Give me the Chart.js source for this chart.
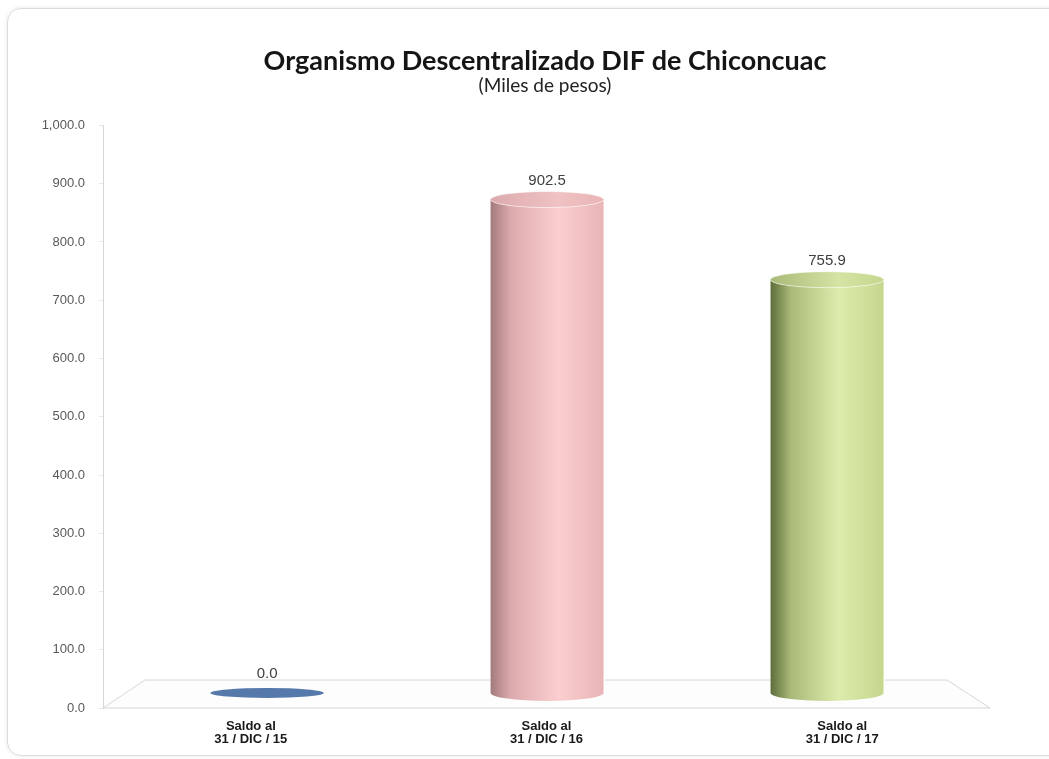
<!DOCTYPE html>
<html>
<head>
<meta charset="utf-8">
<script src="https://cdn.jsdelivr.net/npm/chart.js@4"></script>
<style>
  body { margin: 0; background: #fff; }
  .card { position: absolute; left: 7px; top: 8px; width: 1060px; height: 746px;
          border: 1px solid #dcdcdc; border-radius: 14px; box-shadow: 0 0 4px #e6e6e6; }
  #wrap { position: absolute; left: 0; top: 0; width: 1049px; height: 759px; }
</style>
</head>
<body>
<div class="card"></div>
<div id="wrap"><canvas id="chiconcuac"></canvas></div>
<script>
// data
const categories = [["Saldo al", "31 / DIC / 15"], ["Saldo al", "31 / DIC / 16"], ["Saldo al", "31 / DIC / 17"]];
const saldos = [0.0, 902.5, 755.9];
const yTicks = [0, 100, 200, 300, 400, 500, 600, 700, 800, 900, 1000];

// cylinder colours: [dark edge, mid, highlight, right side, cap]
const tubeColors = [
  ["#3f6596", "#4f77aa", "#6a8fc0", "#5a80b3", "#5679ab"],
  ["#a27a7e", "#dcaaad", "#fbcfcf", "#e9b4b6", "#f0c2c3"],
  ["#5e6d3b", "#a9ba78", "#dcecac", "#c5d78d", "#d4e4a4"]
];

function fmt(v) {
  return v.toLocaleString("en-US", { minimumFractionDigits: 1, maximumFractionDigits: 1 });
}

// the 3D floor under the bars
const floorPlugin = {
  id: "floor",
  beforeDatasetsDraw(chart) {
    const a = chart.chartArea, ctx = chart.ctx;
    ctx.save();
    ctx.beginPath();
    ctx.moveTo(a.left, a.bottom);
    ctx.lineTo(a.left + 42, a.bottom - 28);
    ctx.lineTo(a.right - 43, a.bottom - 28);
    ctx.lineTo(a.right, a.bottom);
    ctx.closePath();
    ctx.fillStyle = "#fdfdfd";
    ctx.fill();
    ctx.strokeStyle = "#d6d6d6";
    ctx.lineWidth = 1;
    ctx.stroke();
    ctx.restore();
  }
};

// paint each bar as a cylinder, using the bar elements' own geometry
const cylinderPlugin = {
  id: "cylinder",
  afterDatasetsDraw(chart) {
    const ctx = chart.ctx;
    chart.getDatasetMeta(0).data.forEach((bar, i) => {
      const c = tubeColors[i];
      const rx = bar.width / 2, x = bar.x, top = bar.y, base = bar.base;
      const g = ctx.createLinearGradient(x - rx, 0, x + rx, 0);
      g.addColorStop(0, c[0]); g.addColorStop(0.18, c[1]);
      g.addColorStop(0.6, c[2]); g.addColorStop(1, c[3]);
      ctx.save();
      if (base - top < 1) {
        ctx.beginPath();
        ctx.ellipse(x, base, rx, 5, 0, 0, Math.PI * 2);
        ctx.fillStyle = c[4];
        ctx.fill();
      } else {
        const ry = 8;
        ctx.clearRect(x - rx - 1, top, bar.width + 2, base - top + 1);
        ctx.beginPath();
        ctx.moveTo(x - rx, top);
        ctx.lineTo(x - rx, base);
        ctx.ellipse(x, base, rx, ry, 0, Math.PI, 0, true);
        ctx.lineTo(x + rx, top);
        ctx.ellipse(x, top, rx, ry, 0, 0, Math.PI, false);
        ctx.closePath();
        ctx.fillStyle = g;
        ctx.fill();
        const gc = ctx.createLinearGradient(x - rx, 0, x + rx, 0);
        gc.addColorStop(0, c[1]); gc.addColorStop(0.6, c[4]); gc.addColorStop(1, c[3]);
        ctx.beginPath();
        ctx.ellipse(x, top, rx, ry, 0, 0, Math.PI * 2);
        ctx.fillStyle = gc;
        ctx.fill();
        ctx.strokeStyle = "rgba(255,255,255,0.5)";
        ctx.stroke();
      }
      // value label
      ctx.fillStyle = "#404040";
      ctx.font = "15px 'Liberation Sans', Arial, sans-serif";
      ctx.textAlign = "center";
      ctx.textBaseline = "middle";
      ctx.fillText(fmt(saldos[i]), x, top - 19);
      ctx.restore();
    });
  }
};

new Chart(document.getElementById("chiconcuac"), {
  type: "bar",
  data: {
    labels: categories,
    datasets: [{
      data: saldos.map((v, i) => ({ x: i, y: v })),
      xAxisID: "xBar",
      yAxisID: "yBar",
      backgroundColor: tubeColors.map(c => c[1]),
      borderWidth: 0,
      barThickness: 113
    }]
  },
  options: {
    responsive: true,
    maintainAspectRatio: false,
    animation: false,
    layout: { padding: { left: 41, right: 0, top: 0, bottom: 0 } },
    plugins: {
      legend: { display: false },
      tooltip: { enabled: false },
      title: {
        display: true,
        text: "Organismo Descentralizado DIF de Chiconcuac",
        color: "#151515",
        font: { family: "Lato", size: 27, weight: "bold" },
        padding: { top: 45, bottom: 0 }
      },
      subtitle: {
        display: true,
        text: "(Miles de pesos)",
        color: "#222",
        font: { family: "Lato", size: 19, lineHeight: 0.9 },
        padding: { top: 0, bottom: 31 }
      }
    },
    scales: {
      x: {
        grid: { display: false },
        border: { display: false },
        ticks: {
          color: "#1a1a1a",
          font: { family: "'Liberation Sans', Arial", size: 13, weight: "bold", lineHeight: 1.0 },
          padding: 4,
          maxRotation: 0
        },
        afterFit(s) { s.height = 51; }
      },
      // bars sit a little in from the front edge of the 3D floor
      xBar: {
        type: "linear",
        display: false,
        offset: false,
        min: -0.586,
        max: 2.582
      },
      y: {
        min: 0,
        max: 1000,
        afterBuildTicks(s) { s.ticks = yTicks.map(v => ({ value: v })); },
        grid: { drawOnChartArea: false, drawTicks: true, tickLength: 4, color: "#e6e6e6" },
        border: { color: "#d6d6d6" },
        ticks: {
          color: "#595959",
          font: { family: "'Liberation Sans', Arial", size: 13 },
          padding: 14,
          callback: v => fmt(v)
        },
        afterFit(s) { s.width = 62; }
      },
      // bars stand on the floor of the 3D plot, a bit in front of the back wall
      yBar: {
        position: "right",
        min: -27.5,
        max: 1037.9,
        grid: { display: false },
        border: { display: false },
        ticks: { display: false },
        afterFit(s) { s.width = 59; }
      }
    }
  },
  plugins: [floorPlugin, cylinderPlugin]
});
</script>
</body>
</html>
